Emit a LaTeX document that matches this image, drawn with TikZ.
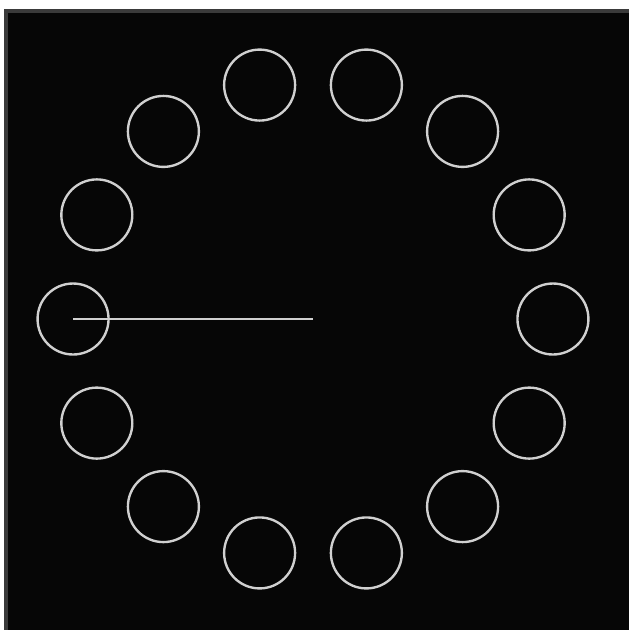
\documentclass[tikz,border=0pt]{standalone}
\usepackage{tikz}
\usetikzlibrary{calc}
\definecolor{ringgray}{HTML}{D0D0D0}
\definecolor{framegray}{HTML}{3A3A3A}
\definecolor{panelbg}{HTML}{060606}

\begin{document}
\begin{tikzpicture}[
    x=0.02cm, y=-0.02cm,
    dial/.style={circle, draw=ringgray, line width=1.35pt, minimum size=1.42cm, inner sep=0pt},
    hand/.style={draw=ringgray, line width=1.5pt}
]
    \useasboundingbox (0,0) rectangle (629,630);
    \fill[white] (0,0) rectangle (629,630);
    \draw[framegray, fill=panelbg, line width=2pt] (6,11) rectangle (632,633);
    \coordinate (hub) at (313,319);
    % fourteen dials round the hub
    \foreach \i in {0,...,13}
        \node[dial] (d\i) at ($(hub)+({\i*360/14}:4.8cm)$) {};
    \draw[hand] (d7.center) -- (hub);
\end{tikzpicture}
\end{document}
